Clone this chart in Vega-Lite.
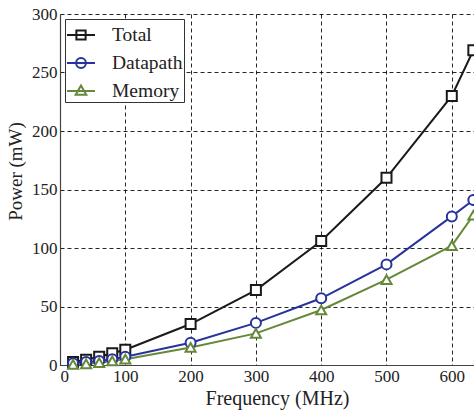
{
  "$schema": "https://vega.github.io/schema/vega-lite/v6.json",
  "autosize": {"type": "none"},
  "padding": {"left": 60, "top": 14, "right": 0, "bottom": 50},
  "width": 414,
  "height": 351,
  "background": "white",
  "config": {
    "font": "Liberation Serif",
    "view": {"stroke": null},
    "axis": {
      "labelFont": "Liberation Serif",
      "titleFont": "Liberation Serif",
      "labelFontSize": 17,
      "titleFontSize": 20,
      "labelColor": "#222",
      "titleColor": "#222",
      "titleFontWeight": "normal",
      "grid": true,
      "gridColor": "#000",
      "gridDash": [4, 3],
      "gridWidth": 1,
      "gridOpacity": 0.85,
      "domainColor": "#444",
      "domainWidth": 1.2,
      "tickSize": 0,
      "labelPadding": 3
    }
  },
  "data": {
    "values": [
      {"series": "Total", "freq": 20, "power": 2.5},
      {"series": "Total", "freq": 40, "power": 4.5},
      {"series": "Total", "freq": 60, "power": 7},
      {"series": "Total", "freq": 80, "power": 10},
      {"series": "Total", "freq": 100, "power": 13},
      {"series": "Total", "freq": 200, "power": 35},
      {"series": "Total", "freq": 300, "power": 64},
      {"series": "Total", "freq": 400, "power": 106},
      {"series": "Total", "freq": 500, "power": 160},
      {"series": "Total", "freq": 600, "power": 230},
      {"series": "Total", "freq": 633, "power": 269},
      {"series": "Datapath", "freq": 20, "power": 1.5},
      {"series": "Datapath", "freq": 40, "power": 2.5},
      {"series": "Datapath", "freq": 60, "power": 3.5},
      {"series": "Datapath", "freq": 80, "power": 5},
      {"series": "Datapath", "freq": 100, "power": 7},
      {"series": "Datapath", "freq": 200, "power": 19},
      {"series": "Datapath", "freq": 300, "power": 36},
      {"series": "Datapath", "freq": 400, "power": 57},
      {"series": "Datapath", "freq": 500, "power": 86},
      {"series": "Datapath", "freq": 600, "power": 127},
      {"series": "Datapath", "freq": 633, "power": 141},
      {"series": "Memory", "freq": 20, "power": 0.5},
      {"series": "Memory", "freq": 40, "power": 1},
      {"series": "Memory", "freq": 60, "power": 2},
      {"series": "Memory", "freq": 80, "power": 3.5},
      {"series": "Memory", "freq": 100, "power": 5},
      {"series": "Memory", "freq": 200, "power": 15},
      {"series": "Memory", "freq": 300, "power": 27},
      {"series": "Memory", "freq": 400, "power": 47},
      {"series": "Memory", "freq": 500, "power": 73},
      {"series": "Memory", "freq": 600, "power": 102},
      {"series": "Memory", "freq": 633, "power": 128}
    ]
  },
  "encoding": {
    "x": {
      "field": "freq", "type": "quantitative",
      "scale": {"domain": [0, 634], "nice": false, "zero": false},
      "axis": {"title": "Frequency (MHz)", "values": [0, 100, 200, 300, 400, 500, 600], "titleX": 217, "titlePadding": 4}
    },
    "y": {
      "field": "power", "type": "quantitative",
      "scale": {"domain": [0, 300], "nice": false},
      "axis": {"title": "Power (mW)", "values": [0, 50, 100, 150, 200, 250, 300], "titlePadding": 6, "titleY": 157, "titleFontSize": 19}
    },
    "color": {
      "field": "series", "type": "nominal",
      "scale": {"domain": ["Total", "Datapath", "Memory"], "range": ["#1a1a1a", "#27339c", "#66883a"]},
      "legend": null
    }
  },
  "layer": [
    {
      "mark": {"type": "line", "strokeWidth": 2},
      "encoding": {"detail": {"field": "series"}}
    },
    {
      "mark": {"type": "point", "filled": false, "fill": "white", "fillOpacity": 1, "strokeWidth": 2, "size": 100, "opacity": 1},
      "encoding": {
        "shape": {
          "field": "series", "type": "nominal",
          "scale": {"domain": ["Total", "Datapath", "Memory"], "range": ["square", "circle", "triangle-up"]},
          "legend": null
        }
      }
    },
    {
      "mark": {"type": "point", "filled": false, "strokeWidth": 2, "size": 0, "opacity": 0},
      "encoding": {
        "color": {
          "field": "series", "type": "nominal",
          "scale": {"domain": ["Total", "Datapath", "Memory"], "range": ["#1a1a1a", "#27339c", "#66883a"]},
          "legend": {
            "title": null,
            "orient": "top-left",
            "offset": 5,
            "padding": 1,
            "rowPadding": 3,
            "labelFont": "Liberation Serif",
            "labelFontSize": 19.5,
            "labelColor": "#222",
            "labelOffset": 16,
            "symbolSize": 784,
            "symbolStrokeWidth": 2,
            "symbolOpacity": 1,
            "symbolFillColor": "white",
            "strokeColor": "#333",
            "fillColor": "white",
            "cornerRadius": 0
          }
        },
        "shape": {
          "field": "series", "type": "nominal",
          "scale": {"domain": ["Total", "Datapath", "Memory"], "range": [
            "M-1,0H1M-0.33,-0.33H0.33V0.33H-0.33Z",
            "M-1,0H1M-0.35,0A0.35,0.35,0,1,0,0.35,0A0.35,0.35,0,1,0,-0.35,0Z",
            "M-1,0H1M0,-0.4L0.38,0.26H-0.38Z"
          ]},
          "legend": {"title": null}
        }
      }
    }
  ],
  "resolve": {"scale": {"shape": "independent"}, "legend": {"shape": "independent", "color": "independent"}}
}
